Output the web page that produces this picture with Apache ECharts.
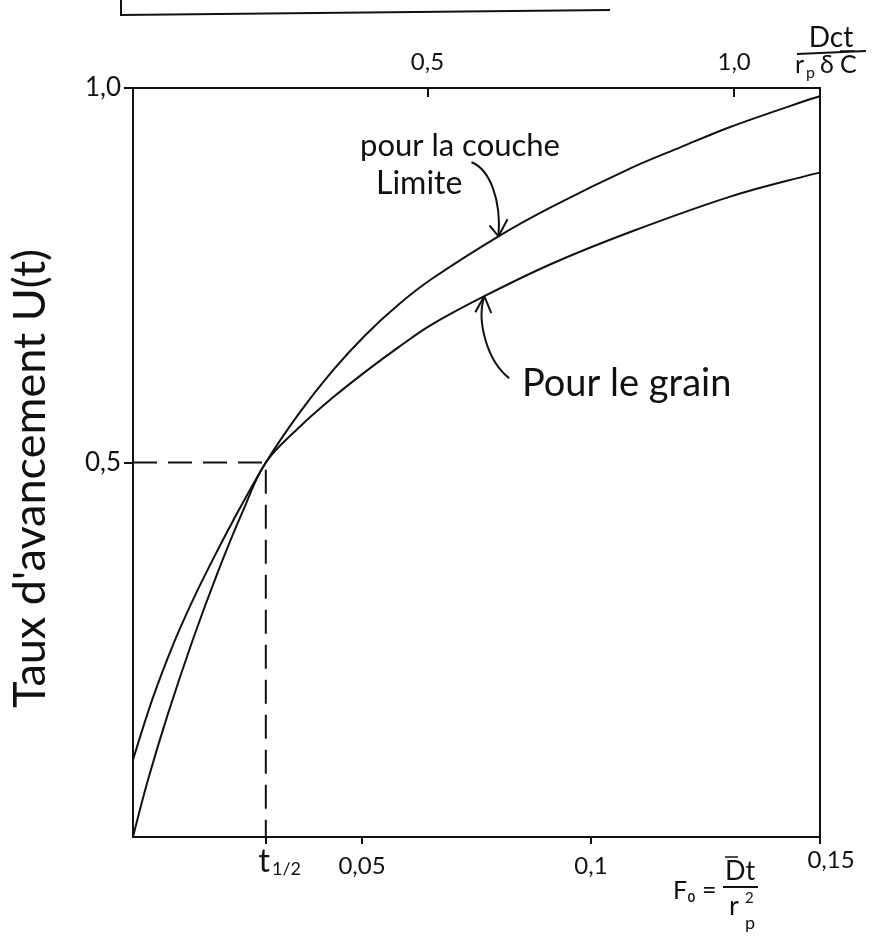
<!DOCTYPE html>
<html><head><meta charset="utf-8">
<script src="https://cdn.jsdelivr.net/npm/echarts@6/dist/echarts.min.js"></script>
<style>html,body{margin:0;padding:0;background:#fff}#c{width:877px;height:937px}</style>
</head><body><div id="c"></div>
<script>
// ---- data ----
const coucheLimiteF = [0, 0.00435, 0.0087, 0.01304, 0.01739, 0.02174, 0.029, 0.0363, 0.0435, 0.0507, 0.0580, 0.0652, 0.0798, 0.0913, 0.1087, 0.1196, 0.1304, 0.1478, 0.15];
const coucheLimiteU = [0.103, 0.186, 0.256, 0.316, 0.370, 0.421, 0.50, 0.566, 0.622, 0.670, 0.711, 0.745, 0.802, 0.841, 0.893, 0.921, 0.948, 0.985, 0.989];
const grainF = [0, 0.00326, 0.00761, 0.01304, 0.01848, 0.02391, 0.029, 0.0363, 0.0435, 0.0507, 0.0580, 0.0652, 0.0767, 0.0913, 0.1087, 0.1304, 0.1478, 0.15];
const grainU = [0, 0.076, 0.164, 0.263, 0.353, 0.434, 0.50, 0.547, 0.586, 0.621, 0.654, 0.684, 0.722, 0.765, 0.808, 0.855, 0.884, 0.887];
const tHalf = 0.029;
const uHalf = 0.5;
const bottomTicks = [0.029, 0.05, 0.1, 0.15];
const topTicks = [0.5, 1.0];
const leftTicks = [0.5, 1.0];
const yName = "Taux d'avancement U(t)";
const coucheText = ['pour la couche', 'Limite'];
const grainText = 'Pour le grain';
const coucheArrowIdx = 12;
const grainArrowIdx = 12;

const ink = '#111';
const FONT = 'Lato';
const comma = v => String(v).replace('.', ',');
const pairs = (xs, ys) => xs.map((x, i) => [x, ys[i]]);

const chart = echarts.init(document.getElementById('c'), null, {renderer: 'canvas'});
const option = {
  animation: false,
  backgroundColor: '#fff',
  grid: {left: 130, top: 88, width: 690, height: 749, show: true, borderColor: ink, borderWidth: 2, backgroundColor: 'transparent'},
  xAxis: [
    {type: 'value', position: 'bottom', min: 0, max: 0.15, splitLine: {show: false},
     axisLine: {show: true, onZero: false, lineStyle: {color: ink, width: 2}},
     axisTick: {show: true, customValues: bottomTicks, length: 7, lineStyle: {color: ink, width: 2}},
     axisLabel: {customValues: bottomTicks, margin: 9, color: ink, fontFamily: FONT, fontSize: 24,
       formatter: v => v === tHalf ? '{pad|}{t|t}{s|1/2}' : (v === 0.15 ? '{e|' + comma(v) + '}' : '{n|' + comma(v) + '}'),
       rich: {pad: {width: 28}, n: {fontSize: 24, fontFamily: FONT, color: ink, padding: [8, 0, 0, 0]},
              e: {fontSize: 24, fontFamily: FONT, color: ink, padding: [2, 0, 0, 22]},
              t: {fontSize: 32, fontFamily: FONT, color: ink},
              s: {fontSize: 18, fontFamily: FONT, color: ink, padding: [14, 0, 0, 2]}}}
    },
    {type: 'value', position: 'top', min: 0.02, max: 1.14, splitLine: {show: false},
     axisLine: {show: true, onZero: false, lineStyle: {color: ink, width: 2}},
     axisTick: {show: true, inside: true, customValues: topTicks, length: 9, lineStyle: {color: ink, width: 2}},
     axisLabel: {customValues: topTicks, margin: 14, color: ink, fontFamily: FONT, fontSize: 24,
       formatter: v => v.toFixed(1).replace('.', ',')}
    }
  ],
  yAxis: {type: 'value', min: 0, max: 1, splitLine: {show: false},
    axisLine: {show: true, onZero: false, lineStyle: {color: ink, width: 2}},
    axisTick: {show: true, customValues: leftTicks, length: 9, lineStyle: {color: ink, width: 2}},
    axisLabel: {customValues: leftTicks, margin: 12, color: ink, fontFamily: FONT, fontSize: 26,
      formatter: v => v.toFixed(1).replace('.', ',')},
    name: yName, nameLocation: 'middle', nameGap: 80,
    nameTextStyle: {fontSize: 45, fontFamily: FONT, color: ink, padding: [0, 32, 0, 0]}
  },
  series: [
    {name: 'couche limite', type: 'line', data: pairs(coucheLimiteF, coucheLimiteU), smooth: 0.35, symbol: 'none',
     lineStyle: {color: ink, width: 2}},
    {name: 'grain', type: 'line', data: pairs(grainF, grainU), smooth: 0.35, symbol: 'none',
     lineStyle: {color: ink, width: 2}},
    {name: 't1/2', type: 'line', data: [[0, uHalf], [tHalf, uHalf], [tHalf, 0]], symbol: 'none',
     lineStyle: {color: ink, width: 2, type: [24, 11]}}
  ]
};
chart.setOption(option);

const tip1 = chart.convertToPixel({seriesIndex: 0}, [coucheLimiteF[coucheArrowIdx], coucheLimiteU[coucheArrowIdx]]);
const tip2 = chart.convertToPixel({seriesIndex: 1}, [grainF[grainArrowIdx], grainU[grainArrowIdx]]);

const lineStyle = {stroke: ink, lineWidth: 2, fill: null};
const txt = (x, y, text, size, align) => ({type: 'text', x, y, style: {text, fontSize: size, fontFamily: FONT, fill: ink, textAlign: align || 'left', textVerticalAlign: 'middle'}});
const seg = (x1, y1, x2, y2, w) => ({type: 'line', shape: {x1, y1, x2, y2}, style: {stroke: ink, lineWidth: w || 2}});

chart.setOption({
  graphic: [
    // piece of the box above the figure
    {type: 'polyline', shape: {points: [[121, 0], [121, 15], [610, 10]]}, style: lineStyle},
    // annotation: couche limite
    txt(360, 146, coucheText[0], 31),
    txt(376, 184, coucheText[1], 32),
    {type: 'bezierCurve', shape: {x1: tip1[0] - 27, y1: tip1[1] - 74, cpx1: tip1[0] - 9, cpy1: tip1[1] - 67, cpx2: tip1[0] + 3, cpy2: tip1[1] - 37, x2: tip1[0], y2: tip1[1]}, style: lineStyle},
    seg(tip1[0], tip1[1], tip1[0] - 9, tip1[1] - 11),
    seg(tip1[0], tip1[1], tip1[0] + 9, tip1[1] - 17),
    // annotation: grain
    txt(522, 384, grainText, 38),
    {type: 'bezierCurve', shape: {x1: tip2[0] + 25, y1: tip2[1] + 82, cpx1: tip2[0] + 3, cpy1: tip2[1] + 65, cpx2: tip2[0] - 8, cpy2: tip2[1] + 25, x2: tip2[0], y2: tip2[1]}, style: lineStyle},
    seg(tip2[0], tip2[1], tip2[0] - 9, tip2[1] + 16),
    seg(tip2[0], tip2[1], tip2[0] + 7, tip2[1] + 17),
    // top axis name: Dct / (r_p δ C̄)
    txt(831, 38, 'Dct', 28, 'center'),
    seg(797, 54, 866, 51),
    txt(795, 65, 'r', 25),
    txt(806, 73, 'p', 16),
    txt(820, 65, 'δ', 25),
    txt(840, 65, 'C', 25),
    seg(840, 51, 855, 51, 1.5),
    // bottom axis name: F0 = D̄t / r_p²
    txt(673, 891, 'F\u2080 =', 25),
    txt(740, 871, 'Dt', 27, 'center'),
    seg(725, 857, 738, 857, 1.5),
    seg(723, 887, 758, 887),
    txt(729, 906, 'r', 27),
    txt(745, 898, '2', 15),
    txt(745, 923, 'p', 18)
  ]
});
</script></body></html>
